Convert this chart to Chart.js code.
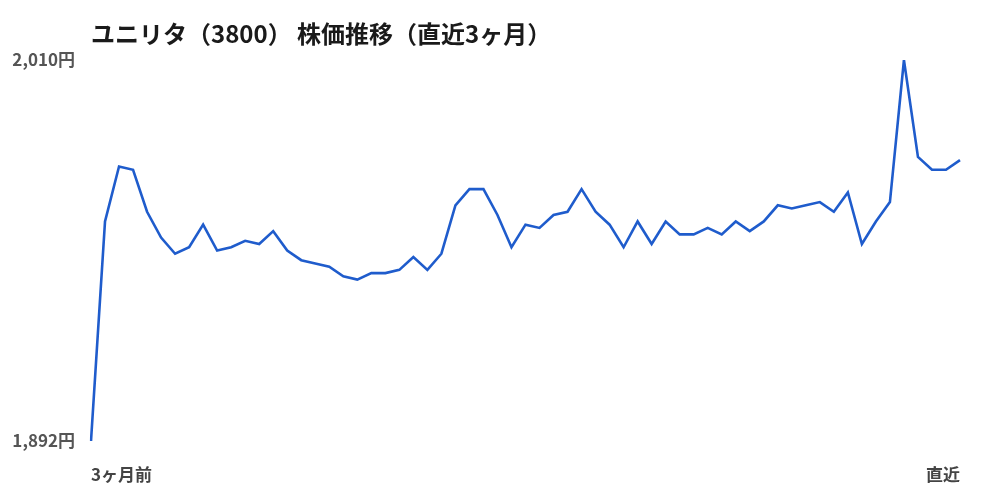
<!DOCTYPE html>
<html lang="ja">
<head>
<meta charset="utf-8">
<script src="https://cdn.jsdelivr.net/npm/chart.js@4.4.1/dist/chart.umd.min.js"></script>
<style>
  html, body { margin: 0; padding: 0; background: #fff; }
  #wrap { width: 1000px; height: 500px; position: relative; }
</style>
</head>
<body>
<div id="wrap"><canvas id="kabuka"></canvas></div>
<script>
const chartTitle = 'ユニリタ（3800） 株価推移（直近3ヶ月）';
const startLabel = '3ヶ月前';
const endLabel = '直近';
const yMin = 1892;
const yMax = 2010;

// 終値（読み取り値）
const prices = [
  1892, 1960, 1977, 1976, 1963, 1955, 1950, 1952, 1959, 1951,
  1952, 1954, 1953, 1957, 1951, 1948, 1947, 1946, 1943, 1942,
  1944, 1944, 1945, 1949, 1945, 1950, 1965, 1970, 1970, 1962,
  1952, 1959, 1958, 1962, 1963, 1970, 1963, 1959, 1952, 1960,
  1953, 1960, 1956, 1956, 1958, 1956, 1960, 1957, 1960, 1965,
  1964, 1965, 1966, 1963, 1969, 1953, 1960, 1966, 2010, 1980,
  1976, 1976, 1979
];
const labels = prices.map((_, i) => i);

const fontFamily = '"Noto Sans CJK JP", "Noto Sans", sans-serif';

// タイトルをプロット領域の左端に揃えて描く
const titlePlugin = {
  id: 'leftTitle',
  afterDraw(chart) {
    const ctx = chart.ctx;
    ctx.save();
    ctx.font = 'bold 24px ' + fontFamily;
    ctx.fillStyle = '#1a1a1a';
    ctx.textBaseline = 'middle';
    ctx.textAlign = 'left';
    ctx.fillText(chartTitle, chart.chartArea.left, 34);
    ctx.restore();
  }
};

new Chart(document.getElementById('kabuka'), {
  type: 'line',
  data: {
    labels: labels,
    datasets: [{
      data: prices,
      borderColor: '#1f5ccc',
      borderWidth: 2.6,
      pointRadius: 0,
      tension: 0,
      fill: false
    }]
  },
  options: {
    responsive: true,
    maintainAspectRatio: false,
    animation: false,
    layout: { padding: { top: 60, left: 0, right: 40, bottom: 0 } },
    plugins: {
      legend: { display: false },
      tooltip: { enabled: false }
    },
    scales: {
      x: {
        grid: { display: false, drawTicks: false },
        border: { display: false },
        offset: false,
        afterFit: s => { s.height = 59; },
        ticks: {
          autoSkip: false,
          maxRotation: 0,
          align: 'inner',
          padding: 23,
          color: '#444',
          font: { family: fontFamily, size: 17, weight: 'bold' },
          callback: (v, i) => i === 0 ? startLabel : (i === prices.length - 1 ? endLabel : '')
        }
      },
      y: {
        min: yMin,
        max: yMax,
        grid: { display: false },
        border: { display: false },
        afterFit: s => { s.width = 91; },
        afterBuildTicks: axis => { axis.ticks = [{ value: yMin }, { value: yMax }]; },
        ticks: {
          padding: 8,
          color: '#555',
          font: { family: fontFamily, size: 17, weight: 'bold' },
          callback: v => v.toLocaleString('ja-JP') + '円'
        }
      }
    }
  },
  plugins: [titlePlugin]
});
</script>
</body>
</html>
